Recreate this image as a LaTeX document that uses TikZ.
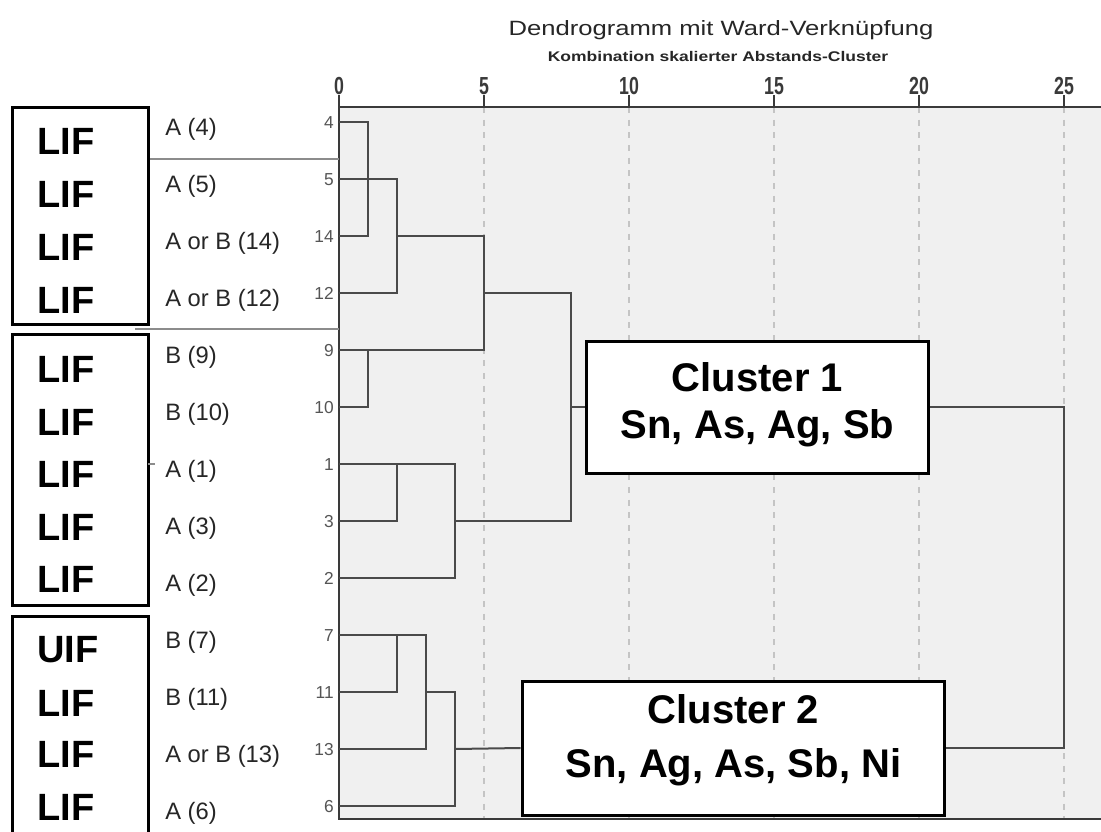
\documentclass[tikz,border=0pt]{standalone}
\usepackage{fontspec}
\setmainfont{Liberation Sans}
\definecolor{plotbg}{HTML}{F0F0F0}
\definecolor{linkc}{HTML}{4A4A4A}
\definecolor{axisc}{HTML}{3A3A3A}
\definecolor{gridc}{HTML}{C4C4C4}
\definecolor{sepc}{HTML}{8C8C8C}
\definecolor{labc}{HTML}{262626}
\definecolor{numc}{HTML}{555555}
\tikzset{
  link/.style={draw=linkc, line width=1.5pt},
  axisline/.style={draw=axisc, line width=1.5pt},
  gridline/.style={draw=gridc, line width=0.9pt, dash pattern=on 4.5pt off 5pt},
  sepline/.style={draw=sepc, line width=1pt},
  clusterbox/.style={draw=black, fill=white, line width=2.25pt, inner sep=0pt},
  groupbox/.style={draw=black, line width=2.25pt, inner sep=0pt},
  lif/.style={font=\fontsize{28.5}{30}\selectfont\bfseries, anchor=base west, inner sep=0pt},
  leaf/.style={font=\fontsize{17.8}{19}\selectfont, text=labc, anchor=base west, inner sep=0pt},
  rownum/.style={font=\fontsize{13}{14}\selectfont, text=numc, anchor=base east, inner sep=0pt},
  ticklab/.style={font=\fontsize{18.5}{19}\selectfont\bfseries, text=axisc, anchor=base, inner sep=0pt},
  ctext/.style={font=\fontsize{30}{32}\selectfont\bfseries, anchor=base, inner sep=0pt},
}
\begin{document}
\begin{tikzpicture}[x=0.75pt,y=-0.75pt]
\useasboundingbox (0,0) rectangle (1101,832);
\clip (0,0) rectangle (1101,832);
\fill[white] (0,0) rectangle (1101,832);

% header
\node[anchor=base, inner sep=0pt, text=black!85, font=\fontsize{15.5}{16}\selectfont] (title) at (721,35)
  {\scalebox{1.24}[1]{Dendrogramm mit Ward-Verknüpfung}};
\node[anchor=base, inner sep=0pt, text=black!85, font=\fontsize{10.5}{11}\selectfont\bfseries] (subtitle) at (718,61)
  {\scalebox{1.25}[1]{Kombination skalierter Abstands-Cluster}};

% plot area and vertical grid
\fill[plotbg] (339,107) rectangle (1101,819);
\foreach \u in {5,10,...,25}
  \draw[gridline] (339+29*\u,107) -- (339+29*\u,819);

% scale with ticks
\foreach \u in {0,5,...,25} {
  \draw[axisline] (339+29*\u,95) -- (339+29*\u,107);
  \node[ticklab] (tick\u) at (339+29*\u,94) {\scalebox{0.72}[1]{\u}};
}
\draw[axisline] (339,107) -- (1101,107);
\draw[axisline] (339,95) -- (339,819) -- (1101,819);

% leaves: row numbers, labels and leaf coordinates
\foreach \id/\lab [count=\k from 0] in {4/{A (4)},5/{A (5)},14/{A or B (14)},12/{A or B (12)},
    9/{B (9)},10/{B (10)},1/{A (1)},3/{A (3)},2/{A (2)},
    7/{B (7)},11/{B (11)},13/{A or B (13)},6/{A (6)}} {
  \pgfmathsetmacro\yy{122+57*\k}
  \coordinate (L\id) at (339,\yy);
  \node[rownum] (n\id) at (334,\yy+6) {\id};
  \node[leaf] (t\id) at (165,\yy+13.5) {\lab};
}

% merge points of the tree
\coordinate (m1) at (368,179);
\coordinate (m2) at (397,236);
\coordinate (m3) at (368,350);
\coordinate (m4) at (484,293);
\coordinate (m5) at (397,464);
\coordinate (m6) at (455,521);
\coordinate (m7) at (571,407);
\coordinate (m8) at (397,635);
\coordinate (m9) at (426,692);
\coordinate (m10) at (455,749);
\coordinate (m11) at (1064,578);

% cluster boxes
\node[clusterbox, minimum width=257pt, minimum height=99pt] (c1) at (757.5,407) {};
\node[clusterbox, minimum width=317pt, minimum height=100.5pt] (c2) at (733.5,748) {};

% dendrogram links
\draw[link] (L4) -| (m1) |- (L14);
\draw[link] (L5) -| (m2) |- (L12);
\draw[link] (m1) -- (m1 -| m2);
\draw[link] (L9) -| (m3) |- (L10);
\draw[link] (m2) -| (m4) |- (m3);
\draw[link] (L1) -| (m5) |- (L3);
\draw[link] (m5) -| (m6) |- (L2);
\draw[link] (m4) -| (m7) |- (m6);
\draw[link] (m7) -- (c1.west);
\draw[link] (L7) -| (m8) |- (L11);
\draw[link] (m8) -| (m9) |- (L13);
\draw[link] (m9) -| (m10) |- (L6);
\draw[link] (m10) -- (c2.west);
\draw[link] (c1.east) -| (m11) |- (c2.east);

% cluster captions
\node[ctext] (c1a) at (757.5,391) {Cluster 1};
\node[ctext] (c1b) at (757.5,438) {Sn, As, Ag, Sb};
\node[ctext] (c2a) at (733.5,723) {Cluster 2};
\node[ctext] (c2b) at (733.5,777) {Sn, Ag, As, Sb, Ni};

% group boxes on the left
\node[groupbox, minimum width=102pt, minimum height=162.75pt] (g1) at (80,215.5) {};
\node[groupbox, minimum width=102pt, minimum height=203.25pt] (g2) at (80,469.5) {};
\node[groupbox, minimum width=102pt, minimum height=180pt] (g3) at (80,736) {};

\foreach \yb [count=\i] in {154,207,260,313,382,435,487,540,592}
  \node[lif] (lif\i) at (37,\yb) {LIF};
\node[lif] (lif10) at (37,662) {UIF};
\foreach \yb [count=\i from 11] in {716,767,820}
  \node[lif] (lif\i) at (37,\yb) {LIF};

% thin separators between label groups
\draw[sepline] (150,159) -- (L4 |- 0,159);
\draw[sepline] (135,329) -- (L4 |- 0,329);
\draw[sepline] (148,464) -- (155,464);
\end{tikzpicture}
\end{document}
